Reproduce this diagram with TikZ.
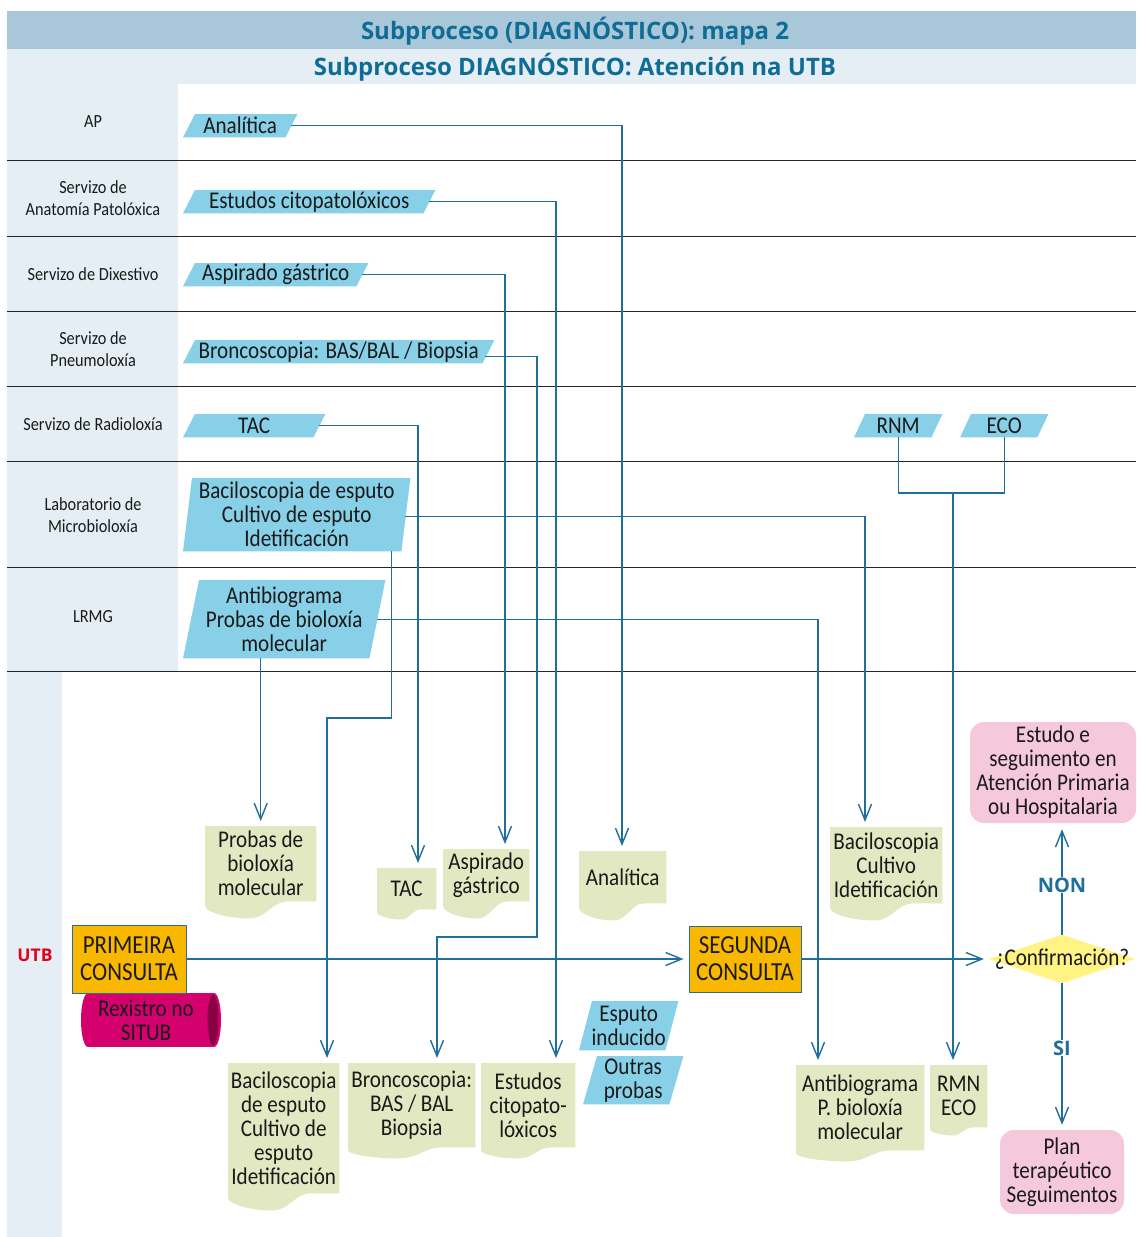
\documentclass[tikz,border=0pt]{standalone}
\usepackage{fontspec}
\setmainfont{Carlito}[FakeStretch=0.88]
\newfontfamily\boldfont{Open Sans}
\usetikzlibrary{calc,arrows.meta}
\definecolor{bandA}{HTML}{A8C8DA}
\definecolor{bandB}{HTML}{E4EEF4}
\definecolor{titc}{HTML}{0F6C95}
\definecolor{inpc}{HTML}{87D0E8}
\definecolor{linec}{HTML}{1F6E9C}
\definecolor{docc}{HTML}{E2E8C2}
\definecolor{orc}{HTML}{F9B800}
\definecolor{orb}{HTML}{2E6C96}
\definecolor{magc}{HTML}{D4006E}
\definecolor{magd}{HTML}{8A0045}
\definecolor{pinkc}{HTML}{F5C8DC}
\definecolor{yelc}{HTML}{FFF384}
\definecolor{redc}{HTML}{E3001B}
\definecolor{textc}{HTML}{1A1A1A}
\newcommand\mainfs{\fontsize{24}{24}\selectfont}
\newcommand\lanefs{\fontsize{18.5}{22}\selectfont}
\newcommand\capfs{\fontsize{26}{27}\selectfont}
\newcommand\titfs{\boldfont\bfseries\fontsize{24}{26}\selectfont}
\pgfdeclarelayer{bg}
\pgfdeclarelayer{shp}
\pgfsetlayers{bg,shp,main}
\newcommand\inbox[7]{%
  \node[boxn, minimum width=#4, minimum height=#5] (#1) at (#2,#3) {#7};
  \begin{pgfonlayer}{shp}
  \fill[inpc] (#1.south west) -- ($(#1.north west)+(#6,0)$) -- (#1.north east) -- ($(#1.south east)-(#6,0)$) -- cycle;
  \end{pgfonlayer}}
\newcommand\docbox[7]{%
  \node[boxn, minimum width=#4, minimum height=#5] (#1) at (#2,#3) {#7};
  \begin{pgfonlayer}{shp}
  \fill[docc] (#1.north west) -- (#1.north east) -- (#1.south east)
    -- ($(#1.south west)!.74!(#1.south east)$)
    .. controls ($(#1.south west)!.6!(#1.south east)$) and ($(#1.south west)!.55!(#1.south east)+(0,#6)$) .. ($(#1.south west)!.4!(#1.south east)+(0,#6)$)
    .. controls ($(#1.south west)!.18!(#1.south east)+(0,#6)$) and ($(#1.south west)+(0,#6*0.6)$) .. ($(#1.south west)+(0,#6*0.25)$) -- cycle;
  \end{pgfonlayer}}
\begin{document}
\begin{tikzpicture}[x=1pt,y=-1pt,
  boxn/.style={anchor=north west, inner sep=0pt, align=center, text=textc, font=\mainfs},
  lane/.style={inner sep=0pt, align=center, text=textc, font=\lanefs},
  titl/.style={inner sep=0pt, text=titc, font=\titfs},
  conn/.style={draw=linec, line width=1.4pt},
  arr/.style={conn, -{Straight Barb[length=16pt,width=13pt]}, shorten >=5pt},
  obox/.style={draw=orb, fill=orc, line width=1pt, inner sep=0pt, align=center, text=textc, font=\capfs},
  pbox/.style={fill=pinkc, rounded corners=14pt, inner sep=0pt, align=center, text=textc, font=\mainfs},
  lbl/.style={fill=white, inner sep=1pt, text=linec, font=\boldfont\bfseries\fontsize{20}{20}\selectfont},
  laneline/.style={draw=black!85, line width=0.9pt}]
\useasboundingbox (0,0) rectangle (1136,1237);
\begin{pgfonlayer}{bg}
  \fill[white] (0,0) rectangle (1136,1237);
  \fill[bandA] (7,11) rectangle (1136,49);
  \fill[bandB] (7,49) rectangle (1136,84);
  \fill[bandB] (7,84) rectangle (178,671);
  \fill[bandB] (7,671) rectangle (62,1237);
  \foreach \yy in {160,236,311,386,461,567,671} \draw[laneline] (7,\yy) -- (1136,\yy);
\end{pgfonlayer}
% titles
\node[titl] (t1) at (575,31) {Subproceso (DIAGNÓSTICO): mapa 2};
\node[titl] (t2) at (575,67) {Subproceso DIAGNÓSTICO: Atención na UTB};
% lane labels
\node[lane] (l1) at (93,122) {AP};
\node[lane] (l2) at (93,198) {Servizo de\\Anatomía Patolóxica};
\node[lane] (l3) at (93,274) {Servizo de Dixestivo};
\node[lane] (l4) at (93,349) {Servizo de\\Pneumoloxía};
\node[lane] (l5) at (93,424) {Servizo de Radioloxía};
\node[lane] (l6) at (93,515) {Laboratorio de\\Microbioloxía};
\node[lane] (l7) at (93,617) {LRMG};
\node[inner sep=0pt, text=redc, font=\boldfont\bfseries\fontsize{17.5}{18}\selectfont] (utb) at (35,955) {UTB};
% inputs
\inbox{ana}{183}{114}{114}{23}{12}{Analítica}
\inbox{est}{183}{190}{252}{23}{12}{Estudos citopatolóxicos}
\inbox{asp}{183}{263}{185}{23}{12}{Aspirado gástrico}
\inbox{bron}{183}{340}{311}{23}{12}{Broncoscopia: BAS/BAL / Biopsia}
\inbox{tac}{183}{414}{142}{23}{12}{TAC}
\inbox{bac}{183}{478}{227}{73}{9}{Baciloscopia de esputo\\Cultivo de esputo\\Idetificación}
\inbox{anti}{183}{580}{202}{78}{16}{Antibiograma\\Probas de bioloxía\\molecular}
\inbox{rnm}{854}{414}{88}{23}{11}{RNM}
\inbox{eco}{960}{414}{88}{23}{11}{ECO}
\inbox{esp}{579}{1001}{99}{49}{13}{Esputo\\inducido}
\inbox{out}{583}{1056}{100}{48}{14}{Outras\\probas}
% documents
\docbox{dprob}{205}{826}{111}{75}{17}{Probas de\\bioloxía\\molecular}
\docbox{dtac}{377}{868}{59}{41}{10}{TAC}
\docbox{daspi}{443}{849}{86}{52}{17}{Aspirado\\gástrico}
\docbox{danal}{579}{851}{87}{52}{17}{Analítica}
\docbox{dbacr}{830}{827}{112}{76}{17}{Baciloscopia\\Cultivo\\Idetificación}
\docbox{dbacl}{228}{1063}{111}{130}{17}{Baciloscopia\\de esputo\\Cultivo de\\esputo\\Idetificación}
\docbox{dbron}{348}{1063}{127}{84}{11}{Broncoscopia:\\BAS / BAL\\Biopsia}
\docbox{destu}{481}{1063}{94}{84}{11}{Estudos\\citopato-\\lóxicos}
\docbox{danti}{796}{1065}{128}{85}{11}{Antibiograma\\P. bioloxía\\molecular}
\docbox{drmn}{930}{1065}{57}{62}{8}{RMN\\ECO}
% process boxes
\node[obox, minimum width=114, minimum height=68] (prim) at (129,959) {PRIMEIRA\\CONSULTA};
\node[obox, minimum width=112, minimum height=66] (seg) at (745,959) {SEGUNDA\\CONSULTA};
\node[inner sep=0pt, minimum width=146, minimum height=48, text=textc, font=\mainfs] (conf) at (1062,959) {¿Confirmación?};
\begin{pgfonlayer}{shp}
  \fill[yelc] (conf.west) -- (conf.north) -- (conf.east) -- (conf.south) -- cycle;
  \fill[magc] (88,993) rectangle (214,1047);
  \fill[magc] (88,1020) ellipse [x radius=7, y radius=27];
  \fill[magc] (214,1020) ellipse [x radius=7, y radius=27];
  \fill[magd] (213,1020) ellipse [x radius=5.5, y radius=25];
\end{pgfonlayer}
\node[inner sep=0pt, align=center, text=textc, font=\mainfs, minimum width=126, minimum height=54] (rex) at (146,1020) {Rexistro no\\SITUB};
\node[pbox, minimum width=166, minimum height=101] (estudo) at (1053,772.5) {Estudo e\\seguimento en\\Atención Primaria\\ou Hospitalaria};
\node[pbox, minimum width=124, minimum height=84] (plan) at (1062,1172) {Plan\\terapéutico\\Seguimentos};
% turning points
\coordinate (xA) at (622,0);
\coordinate (xB) at (556,0);
\coordinate (xC) at (505,0);
\coordinate (jD) at (537,937);
\coordinate (jE) at (437,937);
\coordinate (xF) at (418,0);
\coordinate (xG) at (865,0);
\coordinate (jH) at (327,718);
\coordinate (xI) at (818,0);
\coordinate (jJ) at (953,493);
% connectors
\draw[arr] ($(ana.east)+(-6,0)$) -| (xA |- danal.north);
\draw[arr] ($(est.east)+(-6,0)$) -| (xB |- destu.north);
\draw[arr] ($(asp.east)+(-6,0)$) -| (xC |- daspi.north);
\draw[arr] ($(bron.east)+(-9,5)$) -| (jD) -- (jE) -- (jE |- dbron.north);
\draw[arr] ($(tac.east)+(-6,0)$) -| (xF |- dtac.north);
\draw[arr] ($(bac.east)+(-5,2)$) -| (xG |- dbacr.north);
\draw[arr] ($(bac.south east)+(-19,0)$) |- (jH) -- (jH |- dbacl.north);
\draw[arr] ($(anti.east)+(-8,0)$) -| (xI |- danti.north);
\draw[arr] (anti.south -| dprob.north) -- (dprob.north);
\draw[conn] (rnm.south) |- (jJ) -| (eco.south);
\draw[arr] (jJ) -- (jJ |- drmn.north);
\draw[arr] (prim.east) -- (seg.west);
\draw[arr] (seg.east) -- (conf.west);
\draw[arr, shorten >=6pt] (conf.north) -- (conf.north |- estudo.south);
\draw[arr] (conf.south) -- (conf.south |- plan.north);
\node[lbl] (non) at (1062,885) {NON};
\node[lbl] (si) at (1062,1048) {SI};
\end{tikzpicture}
\end{document}
